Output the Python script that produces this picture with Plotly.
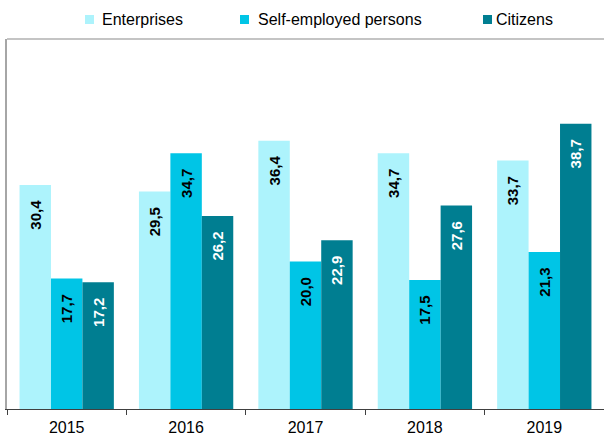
import plotly.graph_objects as go

years = ["2015", "2016", "2017", "2018", "2019"]
enterprises = [30.4, 29.5, 36.4, 34.7, 33.7]
self_employed = [17.7, 34.7, 20.0, 17.5, 21.3]
citizens = [17.2, 26.2, 22.9, 27.6, 38.7]
series_names = ["Enterprises", "Self-employed persons", "Citizens"]

colors = ["#adf3fc", "#00c5e6", "#007e91"]
text_colors = ["#000000", "#000000", "#ffffff"]

W, H = 604, 436
ML, MR, MT, MB = 7, 0, 39, 27
PW, PH = W - ML - MR, H - MT - MB

fig = go.Figure()
for name, vals, color, tcolor in zip(series_names, [enterprises, self_employed, citizens], colors, text_colors):
    fig.add_trace(go.Bar(
        x=years, y=vals, name=name, showlegend=False,
        marker=dict(color=color, line=dict(width=0)),
        text=[f"{v:.1f}".replace(".", ",") + "\u00a0\u00a0\u00a0" for v in vals],
        textposition="inside", insidetextanchor="end", textangle=-90,
        insidetextfont=dict(color=tcolor, size=15, family="Liberation Sans, Arial", weight="bold"),
        hoverinfo="x+y+name",
    ))

def px_x(p):
    return (p - ML) / PW

def px_y(p):
    return (H - MB - p) / PH

# custom legend (square swatch + text)
legend_marker_x = [85, 240, 483]
legend_text_x = [100, 256, 494]
shapes = []
annotations = []
for name, color, mx, tx in zip(series_names, colors, legend_marker_x, legend_text_x):
    shapes.append(dict(type="rect", xref="paper", yref="paper",
                       x0=px_x(mx), x1=px_x(mx + 9), y0=px_y(24), y1=px_y(15),
                       fillcolor=color, line=dict(width=0)))
    annotations.append(dict(text=name, xref="paper", yref="paper",
                            x=px_x(tx), y=px_y(19.5), xanchor="left", yanchor="middle",
                            showarrow=False, font=dict(size=16, color="#000000")))

shapes.append(dict(type="line", xref="paper", yref="paper", x0=0, x1=1, y0=1, y1=1,
                   line=dict(color="#b0b0b0", width=1.5)))

fig.update_layout(
    width=W, height=H,
    barmode="group", bargap=0.21, bargroupgap=0,
    plot_bgcolor="white", paper_bgcolor="white",
    margin=dict(l=ML, r=MR, t=MT, b=MB, autoexpand=False),
    font=dict(family="Liberation Sans, Arial", size=16, color="#000000"),
    showlegend=False,
    shapes=shapes,
    annotations=annotations,
)
fig.update_xaxes(showline=True, linecolor="#404040", linewidth=1,
                 ticks="outside", tickson="boundaries", ticklen=5, tickcolor="#404040",
                 ticklabelstandoff=4,
                 showgrid=False, tickfont=dict(size=16), automargin=False)
fig.update_yaxes(range=[0, 50.2], showticklabels=False, showgrid=False, zeroline=False,
                 showline=True, linecolor="#a6a6a6", linewidth=2, ticks="", automargin=False)

fig.write_html("out.html", config={"displayModeBar": False},
               post_script="document.body.style.margin='0';document.body.style.padding='0';document.body.style.overflow='hidden';")
